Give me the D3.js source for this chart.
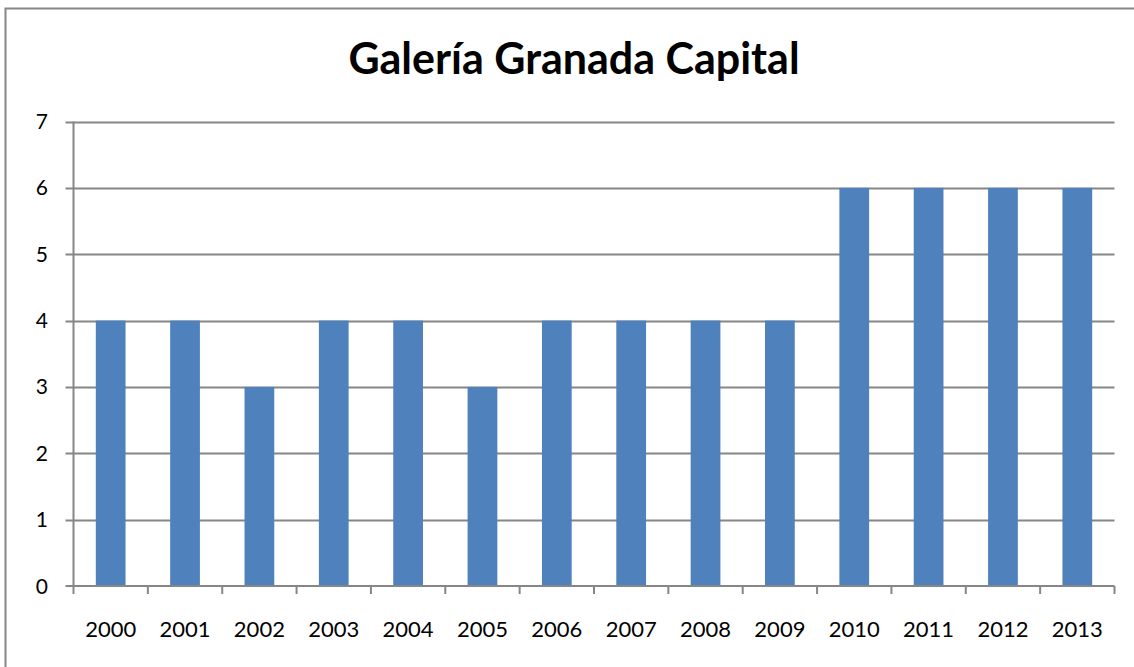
<!DOCTYPE html>
<html>
<head>
<meta charset="utf-8">
<script src="https://cdn.jsdelivr.net/npm/d3@7"></script>
<style>
  body { margin: 0; background: #fff; }
  svg { display: block; font-family: Lato, "Open Sans", sans-serif; }
</style>
</head>
<body>
<svg width="1134" height="667"></svg>
<script>
// data
const years = ["2000", "2001", "2002", "2003", "2004", "2005", "2006",
               "2007", "2008", "2009", "2010", "2011", "2012", "2013"];
const counts = [4, 4, 3, 4, 4, 3, 4, 4, 4, 4, 6, 6, 6, 6];
const yTicks = [0, 1, 2, 3, 4, 5, 6, 7];

function drawChart() {
    let svg = d3.select("svg");

    // outer chart frame (right and bottom sides fall outside the picture)
    svg.append("rect")
        .attr("x", 5.5).attr("y", 8.5)
        .attr("width", 1140).attr("height", 680)
        .attr("fill", "#fff")
        .attr("stroke", "#868686")
        .attr("stroke-width", 2);

    let left = 73.5, right = 1114.5, top = 121.5, bottom = 586;

    let x = d3.scaleBand()
        .domain(years)
        .range([left, right])
        .paddingInner(0.6)
        .paddingOuter(0.3);

    let xCat = d3.scaleBand()
        .domain(years)
        .range([left, right]);

    let y = d3.scaleLinear()
        .domain([0, 7])
        .range([bottom, top]);

    // gridlines
    svg.append("g").selectAll("line")
        .data(yTicks.filter(d => d > 0))
        .enter()
        .append("line")
        .attr("x1", left - 8).attr("x2", right)
        .attr("y1", d => Math.round(y(d)) + 0.5)
        .attr("y2", d => Math.round(y(d)) + 0.5)
        .attr("stroke", "#868686")
        .attr("stroke-width", 2);

    // bars
    svg.append("g").selectAll("rect")
        .data(counts)
        .enter()
        .append("rect")
        .attr("x", (d, i) => x(years[i]))
        .attr("width", x.bandwidth())
        .attr("y", d => y(d))
        .attr("height", d => y(0) - y(d))
        .attr("fill", "#4F81BD");

    // y axis line
    svg.append("line")
        .attr("x1", left).attr("x2", left)
        .attr("y1", top).attr("y2", bottom)
        .attr("stroke", "#868686").attr("stroke-width", 2);

    // x axis line and ticks
    svg.append("line")
        .attr("x1", left - 8).attr("x2", right)
        .attr("y1", bottom).attr("y2", bottom)
        .attr("stroke", "#868686").attr("stroke-width", 2);

    let tickPos = years.map(d => xCat(d)).concat([right]);
    svg.append("g").selectAll("line")
        .data(tickPos)
        .enter()
        .append("line")
        .attr("x1", d => d).attr("x2", d => d)
        .attr("y1", bottom).attr("y2", bottom + 8)
        .attr("stroke", "#868686").attr("stroke-width", 2);

    // y labels
    svg.append("g").selectAll("text")
        .data(yTicks)
        .enter()
        .append("text")
        .attr("x", 48)
        .attr("y", d => y(d) + 7.5)
        .attr("text-anchor", "end")
        .attr("font-size", 21)
        .attr("fill", "#000")
        .text(d => d);

    // x labels
    svg.append("g").selectAll("text")
        .data(years)
        .enter()
        .append("text")
        .attr("x", d => xCat(d) + xCat.bandwidth() / 2)
        .attr("y", 637)
        .attr("text-anchor", "middle")
        .attr("font-size", 22)
        .attr("fill", "#000")
        .text(d => d);

    // title
    svg.append("text")
        .attr("x", 574)
        .attr("y", 74)
        .attr("text-anchor", "middle")
        .attr("font-size", 43)
        .attr("font-weight", "bold")
        .attr("fill", "#000")
        .text("Galería Granada Capital");
}

drawChart();
</script>
</body>
</html>
